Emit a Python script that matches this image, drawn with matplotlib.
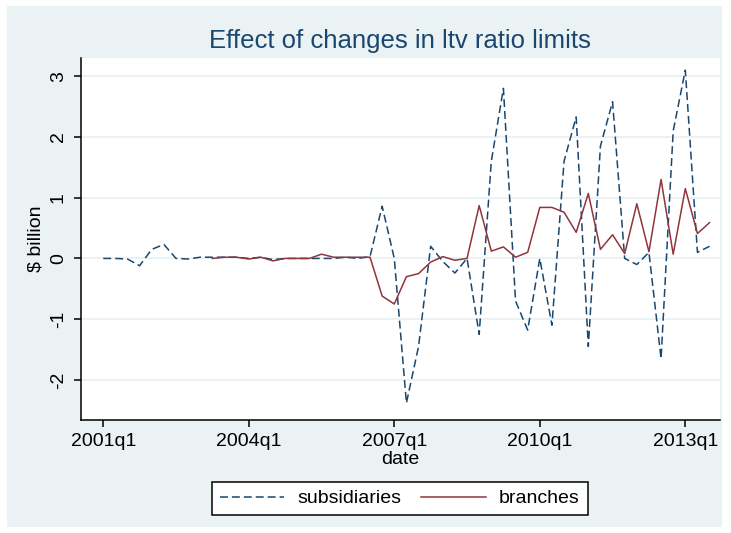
import matplotlib
matplotlib.use("Agg")
import matplotlib.pyplot as plt
from matplotlib.patches import Rectangle
import numpy as np

# ---------------- data ----------------
quarters = [f"{y}q{q}" for y in range(2001, 2014) for q in range(1, 5)][:51]  # 2001q1 .. 2013q3

subsidiaries = [0.0, 0.0, -0.01, -0.12, 0.15, 0.23, 0.0, -0.01, 0.02, 0.02,
                0.02, 0.02, 0.0, 0.02, -0.02, 0.0, 0.0, 0.0, 0.0, 0.0,
                0.02, 0.0, 0.03, 0.86, 0.0, -2.38, -1.45, 0.2, -0.05, -0.24,
                0.0, -1.25, 1.6, 2.8, -0.7, -1.18, 0.0, -1.1, 1.6, 2.33,
                -1.45, 1.85, 2.58, 0.0, -0.1, 0.1, -1.65, 2.1, 3.1, 0.1,
                0.2]

branches = [None] * 9 + [0.0, 0.02, 0.02, -0.01, 0.02, -0.04, 0.0, 0.0, 0.0, 0.07,
                         0.02, 0.02, 0.02, 0.02, -0.62, -0.75, -0.3, -0.25, -0.06, 0.03,
                         -0.03, 0.0, 0.87, 0.12, 0.19, 0.02, 0.1, 0.84, 0.84, 0.76,
                         0.43, 1.07, 0.15, 0.39, 0.08, 0.9, 0.11, 1.3, 0.07, 1.15,
                         0.41, 0.59]

yticks = [-2, -1, 0, 1, 2, 3]
xtick_labels = ["2001q1", "2004q1", "2007q1", "2010q1", "2013q1"]

# ---------------- style ----------------
BG = "#EAF2F3"
NAVY = "#1A476F"
MAROON = "#90353B"
FONT = ["Liberation Sans", "DejaVu Sans"]
plt.rcParams["font.family"] = FONT

W, H = 731, 533
fig = plt.figure(figsize=(W / 100, H / 100), dpi=100)
fig.patch.set_facecolor("white")
fig.patches.append(Rectangle((7 / W, 1 - 527 / H), (722 - 7) / W, (527 - 6) / H,
                             transform=fig.transFigure, facecolor=BG,
                             edgecolor="none", zorder=-10))

left, right, top, bottom = 80.7, 720, 58, 420
ax = fig.add_axes([left / W, 1 - bottom / H, (right - left) / W, (bottom - top) / H])
ax.set_facecolor("white")

x = np.arange(len(quarters))
sub = np.array(subsidiaries, dtype=float)
br = np.array([np.nan if v is None else v for v in branches], dtype=float)

ax.plot(x, sub, color=NAVY, lw=1.1, linestyle=(0, (5.2, 2.6)), label="subsidiaries", zorder=3)
ax.plot(x, br, color=MAROON, lw=1.1, label="branches", zorder=4)

ax.set_xlim(-1.86, 50.86)
ax.set_ylim(-2.66, 3.30)

ax.set_yticks(yticks)
ax.set_yticklabels([str(v) for v in yticks], rotation=90, va="center", fontsize=14)
ax.set_xticks([quarters.index(q) for q in xtick_labels])
ax.set_xticklabels(xtick_labels, fontsize=14)

ax.grid(axis="y", color=BG, lw=1.5, zorder=0)
ax.grid(axis="x", visible=False)
for s in ["top", "right"]:
    ax.spines[s].set_visible(False)
for s in ["left", "bottom"]:
    ax.spines[s].set_linewidth(1.1)
    ax.spines[s].set_color("black")
ax.tick_params(axis="both", direction="out", length=5, width=1.1, color="black",
               labelcolor="black")
ax.tick_params(axis="x", pad=4)
ax.tick_params(axis="y", pad=5)

ax.set_xlabel("date", fontsize=14, labelpad=1)
ax.set_ylabel(r"\$ billion", fontsize=14, labelpad=4)

fig.text(400 / W, 1 - 41 / H, "Effect of changes in ltv ratio limits",
         ha="center", va="center", fontsize=18.5, color=NAVY)

leg = fig.legend(loc="center", bbox_to_anchor=(400 / W, 1 - 498.5 / H), ncol=2,
                 fontsize=14, frameon=True, fancybox=False, handlelength=3.3,
                 handletextpad=0.7, columnspacing=1.0, borderpad=0.4)
leg.get_frame().set_edgecolor("black")
leg.get_frame().set_linewidth(1.1)
leg.get_frame().set_facecolor("white")
leg.get_frame().set_alpha(1)

fig.savefig("out.png", dpi=100, facecolor=fig.get_facecolor())
